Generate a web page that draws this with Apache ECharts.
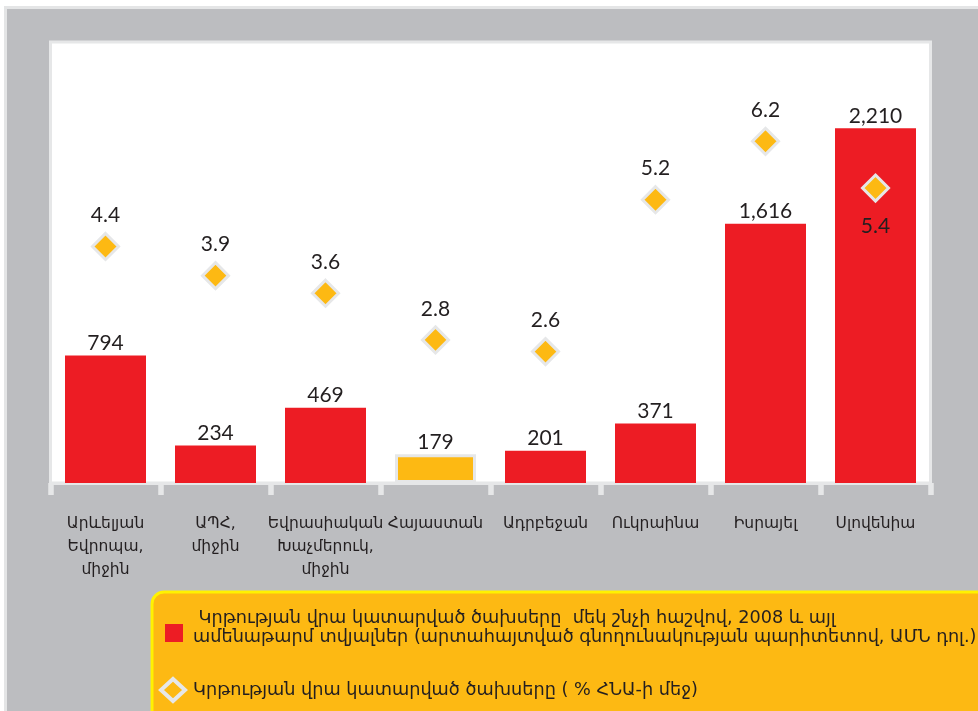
<!DOCTYPE html>
<html>
<head>
<meta charset="utf-8">
<script src="https://cdn.jsdelivr.net/npm/echarts@6/dist/echarts.min.js"></script>
<style>
  html, body { margin: 0; padding: 0; background: #ffffff; }
  #wrap { position: relative; width: 978px; height: 711px; overflow: hidden; background: #ffffff; }
  #edge { position: absolute; left: 4px; top: 6px; right: 0; bottom: 0; background: #e4e5e6; }
  #frame { position: absolute; left: 7px; top: 9px; right: 0; bottom: 0; background: #bcbdc0; }
  #chart { position: absolute; left: 0; top: 0; width: 978px; height: 711px; }
</style>
</head>
<body>
<div id="wrap">
  <div id="edge"></div>
  <div id="frame"></div>
  <div id="chart"></div>
</div>
<script>
// Countries / regions
const categories = [
  'Արևելյան\nԵվրոպա,\nմիջին',
  'ԱՊՀ,\nմիջին',
  'Եվրասիական\nԽաչմերուկ,\nմիջին',
  'Հայաստան',
  'Ադրբեջան',
  'Ուկրաինա',
  'Իսրայել',
  'Սլովենիա'
];
// Spending on education per capita, 2008 or latest (PPP, USD)
const spendingPerCapita = [794, 234, 469, 179, 201, 371, 1616, 2210];
// Spending on education, % of GDP
const spendingGdpShare = [4.4, 3.9, 3.6, 2.8, 2.6, 5.2, 6.2, 5.4];
// Highlighted bar and the point whose label sits underneath
const highlighted = ['Հայաստան'];
const labelBelow = ['Սլովենիա'];

const legendLine1 = ' Կրթության վրա կատարված ծախսերը  մեկ շնչի հաշվով, 2008 և այլ';
const legendLine2 = 'ամենաթարմ տվյալներ (արտահայտված գնողունակության պարիտետով, ԱՄՆ դոլ.)';
const legendLine3 = 'Կրթության վրա կատարված ծախսերը ( % ՀՆԱ-ի մեջ)';

const RED = '#ed1c24';
const YELLOW = '#fdb913';
const LIGHT = '#e6e7e8';
const INK = '#231f20';
const ARM = '"DejaVu Sans", sans-serif';
const NUM = 'Lato, "DejaVu Sans", sans-serif';

const chart = echarts.init(document.getElementById('chart'), null, { renderer: 'canvas' });

const barData = spendingPerCapita.map((v, i) => {
  const name = categories[i];
  if (highlighted.includes(name)) {
    return { value: v, itemStyle: { color: YELLOW, borderColor: LIGHT, borderWidth: 3 } };
  }
  return v;
});

const pointData = spendingGdpShare.map((v, i) => {
  const name = categories[i];
  if (labelBelow.includes(name)) {
    return { value: v, label: { position: 'bottom', distance: 13 } };
  }
  return v;
});

chart.setOption({
  backgroundColor: 'transparent',
  animation: false,
  grid: {
    left: 50.5, right: 47.5, top: 42, bottom: 228,
    show: true, backgroundColor: '#ffffff', borderColor: LIGHT, borderWidth: 3
  },
  xAxis: {
    type: 'category',
    data: categories,
    axisLine: { show: true, lineStyle: { color: LIGHT, width: 3 } },
    axisTick: { show: true, length: 12, lineStyle: { color: LIGHT, width: 5.5 } },
    axisLabel: {
      color: INK, fontFamily: ARM, fontSize: 15.5, lineHeight: 23,
      margin: 29, interval: 0
    }
  },
  yAxis: [
    { type: 'value', min: 0, max: 2748, show: false, splitLine: { show: false } },
    { type: 'value', min: 0.351, max: 7.9, show: false, splitLine: { show: false } }
  ],
  series: [
    {
      type: 'bar',
      data: barData,
      barWidth: 81,
      itemStyle: { color: RED },
      label: {
        show: true, position: 'top', distance: 2,
        color: INK, fontFamily: NUM, fontSize: 21,
        formatter: p => p.value.toLocaleString('en-US')
      }
    },
    {
      type: 'scatter',
      yAxisIndex: 1,
      data: pointData,
      symbol: 'diamond',
      symbolSize: 26,
      itemStyle: { color: YELLOW, borderColor: LIGHT, borderWidth: 3, opacity: 1 },
      label: {
        show: true, position: 'top', distance: 6,
        color: INK, fontFamily: NUM, fontSize: 21,
        formatter: p => p.value.toFixed(1)
      },
      z: 5
    }
  ],
  graphic: [
    {
      type: 'rect',
      shape: { x: 152, y: 592, width: 840, height: 140, r: 12 },
      style: { fill: YELLOW, stroke: '#fff200', lineWidth: 3 }
    },
    {
      type: 'rect',
      shape: { x: 165, y: 624, width: 18, height: 18 },
      style: { fill: RED }
    },
    {
      type: 'polygon',
      shape: { points: [[173, 679], [185, 690], [173, 701], [161, 690]] },
      style: { fill: YELLOW, stroke: LIGHT, lineWidth: 4 }
    },
    {
      type: 'text', x: 193, y: 618,
      style: { text: legendLine1, fill: INK, font: '17.7px ' + ARM, textVerticalAlign: 'middle' }
    },
    {
      type: 'text', x: 193, y: 637,
      style: { text: legendLine2, fill: INK, font: '17.7px ' + ARM, textVerticalAlign: 'middle' }
    },
    {
      type: 'text', x: 193, y: 690,
      style: { text: legendLine3, fill: INK, font: '17.7px ' + ARM, textVerticalAlign: 'middle' }
    }
  ]
});
</script>
</body>
</html>
